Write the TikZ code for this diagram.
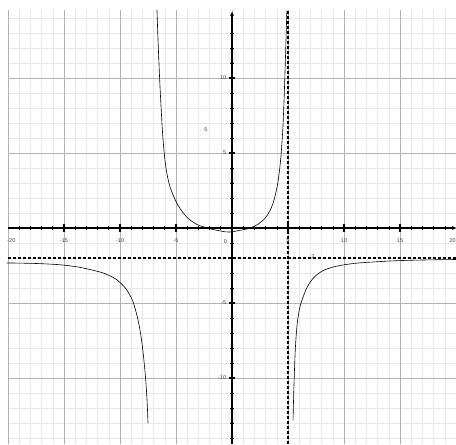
\documentclass[tikz,border=0pt]{standalone}
\usepackage{fontspec}
\setmainfont{Liberation Sans}
\usetikzlibrary{arrows.meta}
\begin{document}
\begin{tikzpicture}[x=11.2pt,y=15pt,
  minorgrid/.style={draw=black!9,line width=0.5pt},
  majorgrid/.style={draw=black!30,line width=0.8pt},
  axisline/.style={line width=1.7pt,black},
  asym/.style={line width=1.5pt,black,dash pattern=on 3pt off 2pt},
  curve/.style={line width=0.6pt,black},
  ticklab/.style={font=\fontsize{5.5}{6}\selectfont,text=black!75,inner sep=0.5pt}]
\useasboundingbox (-20.714,-14.4) rectangle (20,15.2);
\fill[white] (-20.714,-14.4) rectangle (20,15.2);
% grid
\begin{scope}
  \clip (-20,-14.4) rectangle (20,14.53);
  \foreach \i in {-20,...,20} \draw[minorgrid] (\i,-14.4) -- (\i,14.53);
  \foreach \j in {-14,...,14} \draw[minorgrid] (-20,\j) -- (20,\j);
  \foreach \i in {-20,-15,...,20} \draw[majorgrid] (\i,-14.4) -- (\i,14.53);
  \foreach \j in {-10,-5,...,10} \draw[majorgrid] (-20,\j) -- (20,\j);
\end{scope}
% asymptotes
\coordinate (hl) at (-20,-2);
\coordinate (hr) at (20,-2);
\coordinate (vt) at (5,14.53);
\coordinate (vb) at (5,-14.4);
\draw[asym] (hl) -- (hr);
\draw[asym] (vb) -- (vt);
% axes
\coordinate (xa) at (-20,0);
\coordinate (xb) at (20,0);
\coordinate (ya) at (0,-14.4);
\coordinate (yb) at (0,14.4);
\draw[axisline,-{Stealth[length=4pt,width=4pt]}] (xa) -- (xb);
\draw[axisline,-{Stealth[length=4pt,width=4pt]}] (ya) -- (yb);
\foreach \i in {-19,...,19} \draw[line width=0.6pt] (\i,-0.13) -- (\i,0.13);
\foreach \j in {-14,...,13} \draw[line width=0.6pt] (-0.17,\j) -- (0.17,\j);
\foreach \i in {-15,-10,-5,5,10,15} \draw[line width=1.1pt] (\i,-0.25) -- (\i,0.25);
\foreach \j in {-10,-5,5,10} \draw[line width=1.1pt] (-0.3,\j) -- (0.3,\j);
% tick labels
\node[ticklab] (xm20) at (-19.7,-0.85) {-20};
\node[ticklab] (xm15) at (-15,-0.85) {-15};
\node[ticklab] (xm10) at (-10,-0.85) {-10};
\node[ticklab] (xm5) at (-5,-0.85) {-5};
\node[ticklab] (x0) at (-0.6,-0.9) {0};
\node[ticklab] (x5) at (5,-0.85) {5};
\node[ticklab] (x10) at (10,-0.85) {10};
\node[ticklab] (x15) at (15,-0.85) {15};
\node[ticklab] (x20) at (19.7,-0.85) {20};
\node[ticklab,anchor=east] (y10) at (-0.45,10) {10};
\node[ticklab,anchor=east] (y5) at (-0.45,5) {5};
\node[ticklab,anchor=east] (ym5) at (-0.45,-5) {-5};
\node[ticklab,anchor=east] (ym10) at (-0.45,-10) {-10};
\node[ticklab] (pt5) at (-2.32,6.53) {5};
\node[ticklab] (ha) at (7.23,-1.93) {2};
% curve branches
\draw[curve] plot[smooth,tension=0.7] coordinates {
  (-20.09,-2.33) (-17,-2.38) (-14.5,-2.52) (-12.5,-2.8)
  (-11,-3.15) (-9.9,-3.7) (-9.1,-4.5) (-8.6,-5.5)
  (-8.15,-7.1) (-7.8,-9.3) (-7.6,-11.3) (-7.5,-13)};
\draw[curve] plot[smooth,tension=0.7] coordinates {
  (-6.70,14.53) (-6.55,11.5) (-6.35,8.3) (-6.1,5.4) (-5.75,3.4)
  (-5.2,2.1) (-4.4,1.05) (-3.4,0.35) (-2.2,0.0) (-1.0,-0.2) (-0.2,-0.27)
  (0.7,-0.15) (1.6,0) (2.55,0.38) (3.35,1.1) (3.9,2.3) (4.25,3.9)
  (4.48,5.9) (4.62,8.0) (4.75,10.8) (4.9,14.53)};
\draw[curve] plot[smooth,tension=0.7] coordinates {
  (5.45,-12.8) (5.55,-10.1) (5.7,-7.5) (5.95,-5.7) (6.35,-4.6) (6.9,-3.7)
  (7.7,-3.05) (8.8,-2.65) (10.5,-2.4) (12.5,-2.27)
  (15.5,-2.16) (20,-2.1)};
\end{tikzpicture}
\end{document}
